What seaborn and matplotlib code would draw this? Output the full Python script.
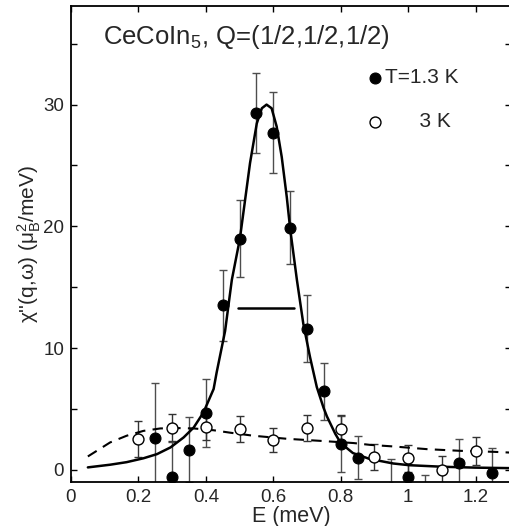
#chi'' vs E for CeCoIn5 at Q=(1/2,1/2,1/2), two temperatures
import numpy as np
import pandas as pd
from matplotlib import pyplot as plt
from matplotlib.ticker import MultipleLocator, FuncFormatter
import seaborn as sns

# T=1.3 K (filled)
E_lo = [0.25, 0.3, 0.35, 0.4, 0.45, 0.5, 0.55, 0.6, 0.65, 0.7, 0.75, 0.8, 0.85, 0.95, 1.0, 1.05, 1.15, 1.25]
chi_lo = [2.6, -0.63, 1.65, 4.64, 13.5, 19.0, 29.3, 27.7, 19.9, 11.6, 6.45, 2.11, 1.01, -1.5, -0.55, -2.3, 0.6, -0.27]
err_lo = [4.5, 2.9, 2.65, 2.8, 2.95, 3.2, 3.3, 3.35, 3.0, 2.75, 2.35, 2.3, 1.8, 2.4, 1.05, 1.9, 1.92, 2.1]

# T=3 K (open)
E_hi = [0.2, 0.3, 0.4, 0.5, 0.6, 0.7, 0.8, 0.9, 1.0, 1.1, 1.2]
chi_hi = [2.52, 3.46, 3.54, 3.35, 2.47, 3.43, 3.37, 1.04, 0.96, 0.0, 1.56]
err_hi = [1.5, 1.1, 1.1, 1.07, 1.0, 1.05, 1.1, 1.06, 1.1, 1.15, 1.13]

# fit curves
fit_lo_E = [0.05, 0.116, 0.165, 0.215, 0.255, 0.295, 0.334, 0.364, 0.393, 0.423, 0.432, 0.457, 0.477, 0.501,
            0.531, 0.551, 0.566, 0.58, 0.595, 0.61, 0.625, 0.64, 0.65, 0.67, 0.689, 0.709, 0.729, 0.749,
            0.759, 0.784, 0.8, 0.836, 0.885, 0.956, 1.003, 1.104, 1.2, 1.3]
fit_lo_chi = [0.2, 0.42, 0.63, 0.95, 1.29, 1.84, 2.66, 3.48, 4.72, 6.64, 8.0, 11.4, 15.6, 19.0,
              25.2, 28.45, 29.7, 30.0, 29.7, 28.2, 25.7, 22.4, 19.8, 15.6, 12.0, 9.25, 6.8, 5.1,
              4.39, 2.95, 2.2, 1.38, 0.9, 0.52, 0.38, 0.25, 0.18, 0.14]
fit_hi_E = [0.05, 0.116, 0.165, 0.215, 0.265, 0.314, 0.364, 0.423, 0.472, 0.541, 0.64, 0.739, 0.838,
            0.887, 0.956, 1.055, 1.155, 1.253, 1.3]
fit_hi_chi = [1.1, 2.25, 2.8, 3.2, 3.4, 3.43, 3.4, 3.25, 3.05, 2.8, 2.55, 2.38, 2.2,
              2.05, 1.92, 1.70, 1.56, 1.48, 1.42]

# resolution bar
res_E = [0.494, 0.66]
res_chi = [13.3, 13.3]

sns.set_theme(style="ticks")
plt.rcParams['font.family'] = ['Liberation Sans', 'DejaVu Sans']
plt.rcParams['mathtext.fontset'] = 'custom'
plt.rcParams['mathtext.rm'] = 'Liberation Sans'
plt.rcParams['mathtext.it'] = 'Liberation Sans:italic'

fig = plt.figure(figsize=(5.09, 5.26), dpi=100)
ax = fig.add_axes([71/509, 44/526, 440/509, 476/526])

lo = pd.DataFrame({"E": E_lo, "chi": chi_lo})
hi = pd.DataFrame({"E": E_hi, "chi": chi_hi})

ax.errorbar(E_lo, chi_lo, yerr=err_lo, fmt='none', ecolor='0.3', elinewidth=1, capsize=2.8, capthick=1)
ax.errorbar(E_hi, chi_hi, yerr=err_hi, fmt='none', ecolor='0.2', elinewidth=1, capsize=2.8, capthick=1)

sns.lineplot(x=fit_lo_E, y=fit_lo_chi, ax=ax, color='black', lw=1.8, sort=False, estimator=None)
sns.lineplot(x=fit_hi_E, y=fit_hi_chi, ax=ax, color='black', lw=1.5, sort=False, estimator=None,
             dashes=False, linestyle=(0, (5, 3.5)))
sns.lineplot(x=res_E, y=res_chi, ax=ax, color='black', lw=1.8, estimator=None)

sns.scatterplot(data=lo, x="E", y="chi", ax=ax, s=62, color='black', edgecolor='black', lw=0.8,
                label="T=1.3 K", zorder=5)
sns.scatterplot(data=hi, x="E", y="chi", ax=ax, s=62, facecolor='white', edgecolor='black', lw=1.0,
                label="      3 K", zorder=5)

ax.set_xlim(0, 1.305)
ax.set_ylim(-1.0, 38.1)
ax.xaxis.set_major_locator(MultipleLocator(0.2))
ax.xaxis.set_major_formatter(FuncFormatter(lambda v, p: "%g" % round(v, 2)))
ax.yaxis.set_major_locator(MultipleLocator(10))
ax.yaxis.set_minor_locator(MultipleLocator(5))
ax.tick_params(which='both', direction='in', top=True, right=True, length=4, width=1, color='black')
ax.tick_params(labelsize=13.5, pad=5)
for s in ax.spines.values():
    s.set_linewidth(1.3)
    s.set_color('black')

ax.set_xlabel("E (meV)", fontsize=15.5)
ax.set_ylabel("χ''(q,ω) (μ$_{\\rm B}^{2}$/meV)", fontsize=15)
ax.xaxis.set_label_coords(0.5, -0.05)
ax.yaxis.set_label_coords(-0.064, 0.5)

ax.text(0.073, 0.935, "CeCoIn$_5$, Q=(1/2,1/2,1/2)", transform=ax.transAxes, fontsize=18.5, va='center', ha='left')

leg = ax.legend(loc='upper left', bbox_to_anchor=(0.672, 0.869), frameon=False, fontsize=15,
                handlelength=0.8, handletextpad=0.1, labelspacing=1.2, borderpad=0, borderaxespad=0)

fig.savefig("out.png", dpi=100)
